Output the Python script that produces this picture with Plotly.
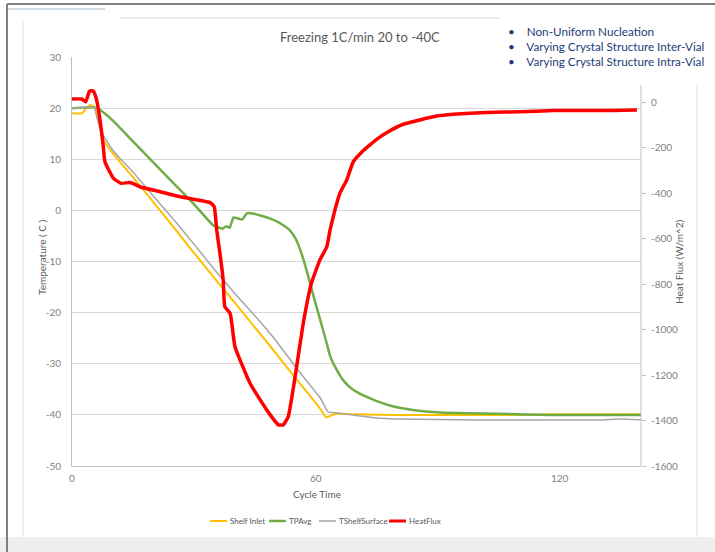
import plotly.graph_objects as go

# ---------------- data ----------------
t_inlet = [0, 2.5, 3.5, 4.5, 5.5, 6.5, 7.6, 10, 12, 15, 20, 25, 30, 35, 40, 45, 50, 55, 60,
           61.5, 62.5, 63.5, 65, 70, 80, 90, 100, 110, 120, 130, 140]
shelf_inlet = [19, 19, 20, 20.6, 20.3, 17.5, 14, 11.2, 9.3, 6.5, 1.6, -3.3, -8.3, -13.2, -18.0,
               -22.9, -27.8, -32.8, -37.7, -39.3, -40.5, -40.2, -39.8, -39.9, -40, -40, -40, -40,
               -39.9, -39.9, -39.9]

t_tpavg = [0, 6, 8, 10, 15, 20, 25, 30, 34.7, 36, 37, 38, 38.8, 39.7, 40.5, 41.9, 43, 44.5, 46.3,
           48.8, 50.5, 52, 53.5, 55, 56.5, 58.2, 59.5, 61.1, 62.5, 63.6, 65, 66.8, 69, 71.7, 75,
           78.4, 82, 86.5, 92, 97.3, 105, 117.8, 130, 140]
tpavg = [20, 20.1, 19, 17.6, 13.5, 9.4, 5.3, 1.2, -2.9, -3.3, -3.6, -3.1, -3.4, -1.4, -1.5, -1.8,
         -0.6, -0.6, -1, -1.6, -2.2, -2.9, -3.8, -5.5, -8.5, -13.1, -17, -21.5, -25.5, -28.7, -31,
         -33.3, -35, -36.2, -37.3, -38.2, -38.8, -39.3, -39.6, -39.7, -39.8, -40, -40, -40]

t_surface = [0, 4, 5.5, 6.5, 7.6, 10, 12, 15, 20, 25, 30, 35, 40, 45, 50, 55, 60, 61, 62, 63, 65,
             70, 75, 80, 90, 100, 110, 120, 130, 135, 140]
tshelf_surface = [20, 20.2, 20, 17, 14.8, 11.8, 10, 7.5, 2.8, -1.8, -6.6, -11.5, -16.2, -20.6,
                  -25.3, -30.6, -35.6, -36.6, -38, -39.4, -39.6, -40.1, -40.6, -40.8, -40.9, -41,
                  -41, -41, -41, -40.8, -41]

t_flux = [0, 2.4, 3.4, 4.3, 5.2, 6.0, 6.9, 7.7, 8.1, 10.2, 12.1, 14.3, 16.7, 21.7, 25.8, 29.9, 34,
          35, 35.6, 36.4, 37.2, 37.6, 38.9, 40.1, 43.8, 47.9, 50.8, 52, 53.2, 54.9, 56.9, 58.9, 61,
          62.7, 63.5, 64.7, 65.9, 67.6, 69.2, 71.2, 73.3, 75.3, 77.4, 81.5, 85.6, 89.7, 93.8, 102,
          110.2, 118.4, 126.6, 133, 139]
heat_flux = [15, 15, 3, 50, 50, 15, -77, -195, -261, -334, -356, -352, -371, -393, -412, -426,
             -441, -459, -561, -664, -781, -899, -928, -1075, -1236, -1353, -1419, -1419, -1383,
             -1207, -972, -796, -693, -635, -561, -473, -400, -341, -261, -220, -187, -158, -133,
             -96, -77, -60, -52, -44, -41, -36, -36, -35, -33]

series_names = ["Shelf Inlet", "TPAvg", "TShelfSurface", "HeatFlux"]
series_colors = ["#FFC000", "#70AD47", "#A5A5A5", "#FF0000"]
series_widths = [2, 2.5, 1.5, 3.5]

x_ticks = [0, 60, 120]
y_ticks = [30, 20, 10, 0, -10, -20, -30, -40, -50]
y2_ticks = [0, -200, -400, -600, -800, -1000, -1200, -1400, -1600]

# ---------------- layout helpers ----------------
L, R, T, B = 72, 641, 57, 466
W, H = R - L, B - T


def px(x):
    return (x - L) / W


def py(y):
    return (B - y) / H


FONT = "Lato, 'Open Sans', sans-serif"
GRAY_TXT = "#595959"
TICK_TXT = "#7F7F7F"

fig = go.Figure()
xs = [t_inlet, t_tpavg, t_surface, t_flux]
ys = [shelf_inlet, tpavg, tshelf_surface, heat_flux]
for i in range(4):
    fig.add_trace(go.Scatter(
        x=xs[i], y=ys[i], name=series_names[i], mode="lines",
        yaxis="y2" if i == 3 else "y", showlegend=False,
        line=dict(color=series_colors[i], width=series_widths[i], shape="spline",
                  smoothing=0.4)))

shapes = []


def hline(x0, x1, y, color, width=1, layer="above"):
    shapes.append(dict(type="line", xref="paper", yref="paper", x0=px(x0), x1=px(x1),
                       y0=py(y), y1=py(y), line=dict(color=color, width=width), layer=layer))


def vline(x, y0, y1, color, width=1, layer="above"):
    shapes.append(dict(type="line", xref="paper", yref="paper", x0=px(x), x1=px(x),
                       y0=py(y0), y1=py(y1), line=dict(color=color, width=width), layer=layer))


# bottom grey band
shapes.append(dict(type="rect", xref="paper", yref="paper", x0=px(0), x1=px(715),
                   y0=py(537), y1=py(552), fillcolor="#EEEEEE", line=dict(width=0),
                   layer="below"))
# white box behind bullet text
shapes.append(dict(type="rect", xref="paper", yref="paper", x0=px(500), x1=px(715),
                   y0=py(7), y1=py(85), fillcolor="white", line=dict(width=0), layer="above"))
hline(7, 715, 4, "#808080", 2)
vline(7, 4, 552, "#808080", 2)
hline(8, 105, 9, "#C5D3E0", 1.5)
hline(120, 500, 18, "#D9D9D9", 1)
vline(23, 20, 537, "#E3E3E3", 1)
vline(697, 85, 537, "#E3E3E3", 1)
vline(641, 85, 466, "#BFBFBF", 1)


def note(text, x, y, size, color, angle=0, xanchor="center", align="center"):
    return dict(text=text, x=px(x), y=py(y), xref="paper", yref="paper", xanchor=xanchor,
                yanchor="middle", align=align, textangle=angle, showarrow=False,
                font=dict(family=FONT, size=size, color=color))


annotations = [
    note("Freezing 1C/min 20 to -40C", 360, 37, 13, GRAY_TXT),
    note("•&nbsp;&nbsp;&nbsp;&nbsp;Non-Uniform Nucleation<br>"
         "•&nbsp;&nbsp;&nbsp;&nbsp;Varying Crystal Structure Inter-Vial<br>"
         "•&nbsp;&nbsp;&nbsp;&nbsp;Varying Crystal Structure Intra-Vial",
         506, 46, 11.7, "#1F3A78", xanchor="left", align="left"),
    note("Temperature ( C )", 42, 258, 10, GRAY_TXT, angle=-90),
    note("Heat Flux (W/m^2)", 679, 262, 10, GRAY_TXT, angle=-90),
    note("Cycle Time", 317, 494, 10, GRAY_TXT),
]

# legend (Excel style: short swatch + label)
legend_x = [210, 269, 319, 389]
for i in range(4):
    hline(legend_x[i], legend_x[i] + 17, 521, series_colors[i],
          {0: 2, 1: 2.5, 2: 1.5, 3: 3}[i])
    annotations.append(note(series_names[i], legend_x[i] + 18, 521, 8, GRAY_TXT,
                            xanchor="left", align="left"))

fig.update_layout(
    width=715, height=552,
    margin=dict(l=L, r=715 - R, t=T, b=552 - B),
    paper_bgcolor="white", plot_bgcolor="white",
    font=dict(family=FONT, size=10, color=TICK_TXT),
    showlegend=False,
    xaxis=dict(range=[0, 140], tickvals=x_ticks, ticktext=[str(v) for v in x_ticks],
               showgrid=False, zeroline=False,
               showline=True, linecolor="#BFBFBF", linewidth=1, ticks="",
               ticklabelstandoff=3, tickfont=dict(size=10, color=TICK_TXT)),
    yaxis=dict(range=[-50, 30], tickvals=y_ticks, ticktext=[str(v) for v in y_ticks],
               showgrid=True, gridcolor="#D9D9D9",
               gridwidth=1, zeroline=False, showline=True, linecolor="#BFBFBF", ticks="",
               ticklabelstandoff=8, tickfont=dict(size=10, color=TICK_TXT)),
    yaxis2=dict(range=[-1600, 200], tickvals=y2_ticks, ticktext=[str(v) for v in y2_ticks],
                overlaying="y", side="right",
                showgrid=False, zeroline=False, showline=False, ticks="outside", ticklen=4,
                tickcolor="#BFBFBF", ticklabelstandoff=3,
                tickfont=dict(size=10, color=TICK_TXT)),
    shapes=shapes,
    annotations=annotations,
)

fig.write_html("out.html", config={"displayModeBar": False},
               post_script="document.body.style.margin='0px';")
